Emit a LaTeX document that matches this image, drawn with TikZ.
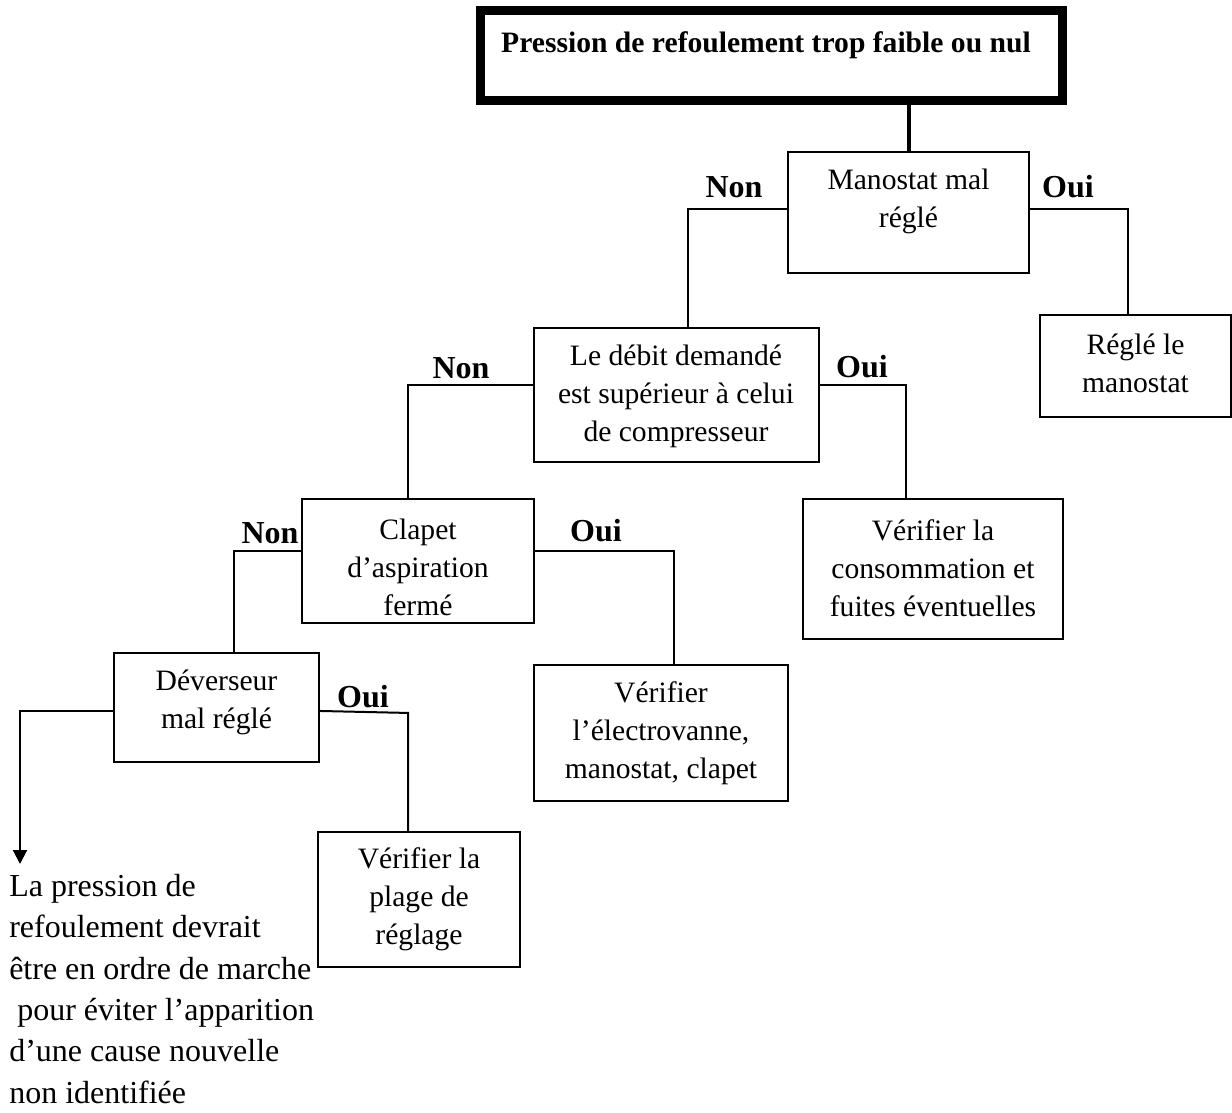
\documentclass[tikz,border=0pt]{standalone}
\usepackage{fontspec}
\setmainfont{Liberation Serif}
\usetikzlibrary{arrows.meta}
\begin{document}
\begin{tikzpicture}[x=0.75pt,y=-0.75pt,
  box/.style={draw,line width=1.5pt,rectangle,inner sep=0pt},
  titlebox/.style={draw,line width=6.75pt,rectangle,inner sep=0pt},
  boxtext/.style={align=center,inner sep=0pt,font=\fontsize{22.2}{28.5}\selectfont},
  titletext/.style={inner sep=0pt,font=\fontsize{22.2}{28.5}\selectfont\bfseries},
  answer/.style={inner sep=0pt,font=\fontsize{24}{28.5}\selectfont\bfseries},
  note/.style={align=left,inner sep=0pt,font=\fontsize{24}{31}\selectfont},
  link/.style={line width=1.5pt},
]
\useasboundingbox (0,0) rectangle (1232,1113);

% title
\node[titlebox,minimum width=582*0.75pt,minimum height=90*0.75pt] (title) at (771,56) {};
\node[titletext] (titlet) at (766,45) {Pression de refoulement trop faible ou nul};

% decision and action boxes
\node[box,minimum width=241*0.75pt,minimum height=121*0.75pt] (mano) at (908.5,212.5) {};
\node[boxtext] (manot) at (908.5,201) {Manostat mal\\réglé};

\node[box,minimum width=191*0.75pt,minimum height=102*0.75pt] (regle) at (1135.5,366) {};
\node[boxtext] (reglet) at (1135.5,363) {Réglé le\\manostat};

\node[box,minimum width=285*0.75pt,minimum height=134*0.75pt] (debit) at (676,394.5) {};
\node[boxtext] (debitt) at (676,396) {Le débit demandé\\est supérieur à celui\\de compresseur};

\node[box,minimum width=232*0.75pt,minimum height=124*0.75pt] (clapet) at (418,561) {};
\node[boxtext] (clapett) at (418,567) {Clapet\\d’aspiration\\fermé};

\node[box,minimum width=260*0.75pt,minimum height=140*0.75pt] (conso) at (933,569) {};
\node[boxtext] (consot) at (933,568) {Vérifier la\\consommation et\\fuites éventuelles};

\node[box,minimum width=205*0.75pt,minimum height=109*0.75pt] (dever) at (216.5,707.5) {};
\node[boxtext] (devert) at (216.5,702) {Déverseur\\mal réglé};

\node[box,minimum width=254*0.75pt,minimum height=136*0.75pt] (electro) at (661,733) {};
\node[boxtext] (electrot) at (661,733) {Vérifier\\l’électrovanne,\\manostat, clapet};

\node[box,minimum width=202*0.75pt,minimum height=135*0.75pt] (plage) at (419,899.5) {};
\node[boxtext] (plaget) at (419,899) {Vérifier la\\plage de\\réglage};

% conclusion text
\node[note,anchor=north west] (concl) at (9,874) {La pression de\\refoulement devrait\\être en ordre de marche\\\ pour éviter l’apparition\\d’une cause nouvelle\\non identifiée};

% connectors
\draw[line width=3pt] (title.south -| mano.north) -- (mano.north);

\draw[link] ([yshift=2.6pt]mano.west) -| ([xshift=9pt]debit.north);
\draw[link] ([yshift=2.6pt]mano.east) -| ([xshift=-5.625pt]regle.north);
\draw[link] ([yshift=7.1pt]debit.west) -| ([xshift=-7.5pt]clapet.north);
\draw[link] ([yshift=7.1pt]debit.east) -| ([xshift=-20.25pt]conso.north);
\draw[link] ([yshift=7.5pt]clapet.west) -| ([xshift=13.125pt]dever.north);
\draw[link] ([yshift=7.5pt]clapet.east) -| ([xshift=9.75pt]electro.north);
\draw[link] ([yshift=-2.6pt]dever.east) -- ++(89,2) -| ([xshift=-8.25pt]plage.north);
\coordinate (arrowend) at (20,864);
\draw[link,-{Triangle[width=10.5pt,length=10.5pt]}] ([yshift=-2.6pt]dever.west) -| (arrowend);

% answer labels
\node[answer] (n1) at (734,187) {Non};
\node[answer] (o1) at (1068,187) {Oui};
\node[answer] (n2) at (461,368) {Non};
\node[answer] (o2) at (862,367) {Oui};
\node[answer] (n3) at (270,533) {Non};
\node[answer] (o3) at (596,531) {Oui};
\node[answer] (o4) at (363,697) {Oui};
\end{tikzpicture}
\end{document}
